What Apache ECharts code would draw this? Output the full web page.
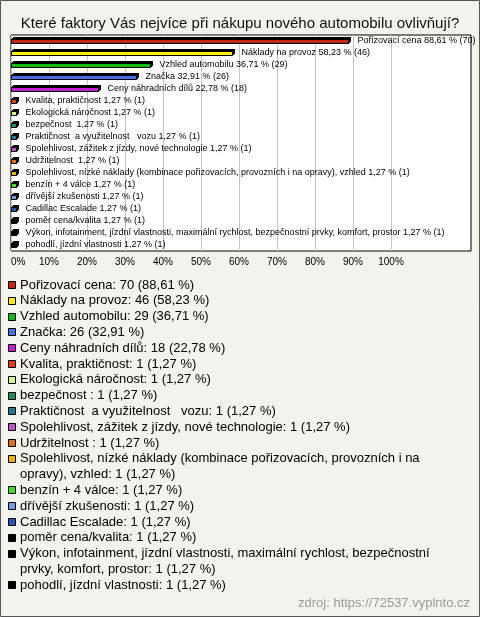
<!DOCTYPE html>
<html>
<head>
<meta charset="utf-8">
<script src="https://cdn.jsdelivr.net/npm/echarts@6/dist/echarts.min.js"></script>
<style>
html,body{margin:0;padding:0;background:#f3f2ec;}
#chart{width:480px;height:617px;}
</style>
</head>
<body>
<div id="chart"></div>
<script>
const titleText = 'Které faktory Vás nejvíce při nákupu nového automobilu ovlivňují?';
const sourceText = 'zdroj: https://72537.vyplnto.cz';
const categories = [
  'Pořizovací cena',
  'Náklady na provoz',
  'Vzhled automobilu',
  'Značka',
  'Ceny náhradních dílů',
  'Kvalita, praktičnost',
  'Ekologická náročnost',
  'bezpečnost ',
  'Praktičnost  a využitelnost   vozu',
  'Spolehlivost, zážitek z jízdy, nové technologie',
  'Udržitelnost ',
  'Spolehlivost, nízké náklady (kombinace pořizovacích, provozních i na opravy), vzhled',
  'benzín + 4 válce',
  'dřívější zkušenosti',
  'Cadillac Escalade',
  'poměr cena/kvalita',
  'Výkon, infotainment, jízdní vlastnosti, maximální rychlost, bezpečnostní prvky, komfort, prostor',
  'pohodlí, jízdní vlastnosti'
];
const counts = [70, 46, 29, 26, 18, 1, 1, 1, 1, 1, 1, 1, 1, 1, 1, 1, 1, 1];
const percents = [88.61, 58.23, 36.71, 32.91, 22.78, 1.27, 1.27, 1.27, 1.27, 1.27, 1.27, 1.27, 1.27, 1.27, 1.27, 1.27, 1.27, 1.27];
const colors = ['#c42412', '#ffee00', '#11bb11', '#4a6ee6', '#c21ed2', '#e0400e', '#ccff88', '#17925a',
  '#1f7a8c', '#b856be', '#e0730e', '#e8b400', '#44dd22', '#6f9be0', '#2653b8', '#000000', '#000000', '#000000'];
const tickValues = [0, 10, 20, 30, 40, 50, 60, 70, 80, 90, 100];

const fmt = v => v.toFixed(2).replace('.', ',');
const FONT = '"Liberation Sans", Arial, sans-serif';

// word-wrap legend texts using canvas measurement
const mctx = document.createElement('canvas').getContext('2d');
mctx.font = '13px ' + FONT;
function wrap(text, maxW) {
  const words = text.split(' ');
  const lines = [];
  let cur = '';
  for (let i = 0; i < words.length; i++) {
    const test = cur === '' ? words[i] : cur + ' ' + words[i];
    if (cur !== '' && mctx.measureText(test).width > maxW) {
      lines.push(cur);
      cur = words[i];
    } else {
      cur = test;
    }
  }
  lines.push(cur);
  return lines;
}

const legendGraphics = [];
let ly = 285;
const lineH = 15.8;
categories.forEach((c, i) => {
  const txt = c + ': ' + counts[i] + ' (' + fmt(percents[i]) + ' %)';
  const lines = wrap(txt, 445);
  legendGraphics.push({
    type: 'rect', shape: {x: 8.5, y: Math.round(ly) - 3.5, width: 7, height: 7},
    style: {fill: colors[i], stroke: '#000', lineWidth: 1}
  });
  legendGraphics.push({
    type: 'text', x: 20, y: ly - lineH / 2,
    style: {text: lines.join('\n'), font: '13px ' + FONT, fill: '#000', verticalAlign: 'top', lineHeight: lineH}
  });
  ly += lineH * lines.length;
});

function renderBar(params, api) {
  const idx = api.value(0);
  const val = api.value(1);
  const p0 = api.coord([0, idx]);
  const p1 = api.coord([val, idx]);
  const x0 = Math.round(p0[0]) + 0.5, x1 = Math.round(p1[0]) + 0.5;
  const yc = Math.round(p0[1]);
  const yt = yc - 1.5, yb = yc + 2.5, d = 2;
  const col = colors[idx];
  const lab = categories[idx] + ' ' + fmt(percents[idx]) + ' % (' + counts[idx] + ')';
  return {
    type: 'group',
    children: [
      {type: 'polygon', shape: {points: [[x0, yt], [x0 + d, yt - d], [x1 + d, yt - d], [x1, yt]]},
        style: {fill: '#000', stroke: '#000', lineWidth: 1}},
      {type: 'polygon', shape: {points: [[x1, yt], [x1 + d, yt - d], [x1 + d, yb - d], [x1, yb]]},
        style: {fill: '#000', stroke: '#000', lineWidth: 1}},
      {type: 'rect', shape: {x: x0, y: yt, width: x1 - x0, height: yb - yt},
        style: {fill: col, stroke: '#000', lineWidth: 1}},
      {type: 'text', x: x1 + d + 7, y: yc,
        style: {text: lab, font: '9px ' + FONT, fill: '#000', verticalAlign: 'middle'}}
    ]
  };
}

const chart = echarts.init(document.getElementById('chart'), null, {renderer: 'canvas'});
chart.setOption({
  backgroundColor: '#f3f2ec',
  animation: false,
  title: {
    text: titleText, left: 'center', top: 11,
    textStyle: {fontFamily: FONT, fontSize: 15, fontWeight: 'normal', color: '#111'}
  },
  grid: {
    left: 11, top: 35, width: 460, height: 216,
    show: true, backgroundColor: '#ffffff', borderColor: '#000', borderWidth: 1
  },
  xAxis: {
    type: 'value', min: 0, max: 460 / 3.8,
    axisLine: {show: false},
    axisTick: {show: false, customValues: tickValues},
    splitLine: {show: true, lineStyle: {color: '#c4c4c4', width: 1}},
    axisLabel: {
      customValues: tickValues, formatter: '{value}%', margin: 6,
      fontFamily: FONT, fontSize: 10, color: '#000', alignMinLabel: 'left'
    }
  },
  yAxis: {
    type: 'category', data: categories, inverse: true,
    axisLine: {show: false}, axisTick: {show: false}, axisLabel: {show: false},
    splitLine: {show: false}
  },
  series: [{
    type: 'custom',
    renderItem: renderBar,
    encode: {x: 1, y: 0},
    data: percents.map((p, i) => [i, p])
  }],
  graphic: [
    {type: 'rect', shape: {x: 0.5, y: 0.5, width: 479, height: 616}, style: {fill: null, stroke: '#555', lineWidth: 1}, z: 100},
    {type: 'text', right: 10, top: 597, style: {text: sourceText, font: '13px ' + FONT, fill: '#9a9a9a'}}
  ].concat(legendGraphics)
});
</script>
</body>
</html>
